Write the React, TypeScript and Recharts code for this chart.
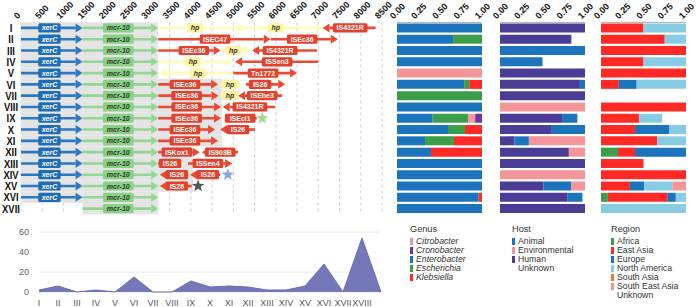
import React from "react";
import { BarChart, Bar, XAxis, YAxis, CartesianGrid, AreaChart, Area } from "recharts";

// row names of the gene map / proportion panels
const ROWS = ["I", "II", "III", "IV", "V", "VI", "VII", "VIII", "IX", "X", "XI", "XII", "XIII", "XIV", "XV", "XVI", "XVII"];
const BP_TICKS = [0, 500, 1000, 1500, 2000, 2500, 3000, 3500, 4000, 4500, 5000, 5500, 6000, 6500, 7000, 7500, 8000, 8500];
const FRAC_TICKS = [0, 0.25, 0.5, 0.75, 1];

// gene = [start, end, kind, label, direction, label centre]
type Gene = [number, number, string, string, number, number];
const XERC: Gene = [0, 1450, "xer", "xerC", 1, 670];
const MCR: Gene = [1450, 3230, "mcr", "mcr-10", 1, 2290];

const GENE_ROWS: Gene[][] = [
  [XERC, MCR, [3230, 5300, "hp", "hp", 1, 4100], [5300, 7100, "hp", "hp", 1, 6000], [7100, 8350, "is", "IS4321R", -1, 7750]],
  [XERC, MCR, [3230, 5880, "is", "ISEC47", 1, 4570], [5880, 7460, "is", "ISEc36", 1, 6620]],
  [XERC, MCR, [3230, 4700, "is", "ISEc36", 1, 4070], [4700, 5400, "hp", "hp", 1, 5000], [5440, 6970, "is", "IS4321R", -1, 6100]],
  [XERC, MCR, [3230, 5000, "hp", "hp", 1, 4050], [5040, 7000, "is", "ISSen3", -1, 6030]],
  [XERC, MCR, [3270, 5000, "hp", "hp", -1, 4170], [5000, 6500, "is", "Tn1772", 1, 5700]],
  [XERC, MCR, [3230, 4640, "is", "ISEc36", 1, 3860], [4700, 5200, "hp", "hp", 1, 4920], [5300, 6220, "is", "IS26", 1, 5630]],
  [XERC, MCR, [3230, 4650, "is", "ISEc36", 1, 3900], [4700, 5100, "hp", "hp", 1, 4920], [5110, 6150, "is", "ISEhe3", -1, 5680]],
  [XERC, MCR, [3230, 4710, "is", "ISEc36", 1, 3900], [4750, 5980, "is", "IS4321R", -1, 5390]],
  [XERC, MCR, [3230, 4710, "is", "ISEc36", 1, 3900], [4800, 5550, "is", "ISEcl1", -1, 5160]],
  [XERC, MCR, [3230, 4570, "is", "ISEc36", 1, 3860], [4690, 5510, "is", "IS26", -1, 5110]],
  [XERC, MCR, [3230, 4640, "is", "ISEc36", 1, 3860]],
  [XERC, MCR, [3230, 4210, "is", "ISKox1", 1, 3670], [4260, 5110, "is", "IS903B", -1, 4690]],
  [XERC, MCR, [3230, 3740, "is", "IS26", 1, 3510], [3930, 4970, "is", "ISSen4", 1, 4400]],
  [XERC, MCR, [3270, 3930, "is", "IS26", -1, 3670], [3980, 4690, "is", "IS26", -1, 4400]],
  [XERC, MCR, [3270, 4020, "is", "IS26", -1, 3670]],
  [XERC, MCR],
  [MCR],
];

// grey conserved-region shading per row
const SHADE: [number, number][] = [
  [0, 3230], [0, 3230], [0, 3230], [0, 3230], [0, 3230],
  [0, 4730], [0, 4730], [0, 4730], [0, 4730], [0, 4730], [0, 4730],
  [0, 4050], [0, 4050], [0, 4050], [0, 4050],
  [0, 3230], [1450, 3230],
];
// stars: [row index, position, colour]
const STARS: [number, number, string][] = [
  [8, 5680, "#a8d890"],
  [13, 4870, "#86a8e6"],
  [14, 4170, "#555555"],
];

// Genus proportions
const ENTEROBACTER = [1, 0.66, 1, 1, 0, 0.79, 0, 1, 0.42, 0.6, 0.33, 0.4, 1, 1, 1, 0.96, 1];
const ESCHERICHIA = [0, 0.34, 0, 0, 0, 0.06, 1, 0, 0.42, 0.2, 0.34, 0, 0, 0, 0, 0, 0];
const CITROBACTER = [0, 0, 0, 0, 1, 0, 0, 0, 0.08, 0, 0, 0, 0, 0, 0, 0, 0];
const CRONOBACTER = [0, 0, 0, 0, 0, 0, 0, 0, 0.08, 0, 0, 0, 0, 0, 0, 0, 0];
const KLEBSIELLA = [0, 0, 0, 0, 0, 0.15, 0, 0, 0, 0.2, 0.33, 0.6, 0, 0, 0, 0.04, 0];

// Host proportions (rest = unknown)
const HUMAN = [1, 0.84, 0, 0, 1, 0.94, 1, 0, 0.73, 0.61, 0.17, 0.81, 1, 0, 0.51, 0.79, 1];
const ANIMAL = [0, 0, 1, 0.5, 0, 0.06, 0, 0, 0.18, 0.39, 0.17, 0, 0, 0, 0.33, 0.18, 0];
const ENVIRONMENTAL = [0, 0, 0, 0, 0, 0, 0, 1, 0, 0, 0.66, 0.19, 0, 1, 0.16, 0, 0];

// Region proportions (rest = unknown)
const AFRICA = [0, 0, 0, 0, 0, 0, 0, 0, 0, 0, 0, 0.2, 0, 0, 0, 0.08, 0];
const EAST_ASIA = [0.5, 0.75, 1, 0.5, 1, 0.21, 0, 1, 0.45, 0.4, 0.66, 0.2, 0.5, 1, 0.34, 0.7, 0];
const EUROPE = [0, 0, 0, 0, 0, 0.21, 0, 0, 0, 0.4, 0, 0.6, 0, 0, 0.17, 0.1, 0];
const NORTH_AMERICA = [0.5, 0.25, 0, 0.5, 0, 0.58, 0, 0, 0.27, 0.2, 0.34, 0, 0, 0, 0.33, 0.12, 1];
const SOUTH_EAST_ASIA = [0, 0, 0, 0, 0, 0, 0, 0, 0, 0, 0, 0, 0, 0, 0.16, 0, 0];

// counts for bottom area chart
const AREA_LABELS = ["I", "II", "III", "IV", "V", "VI", "VII", "VIII", "IX", "X", "XI", "XII", "XIII", "XIV", "XV", "XVI", "XVII", "XVIII", ""];
const AREA_COUNTS = [2, 6, 0, 2, 0, 15, 0, 0, 11, 5, 6, 5, 2, 2, 6, 28, 0, 54, 0];

const C = {
  blue: "#1c75bc",
  green: "#3c9e4a",
  pink: "#f4959a",
  purple: "#7232a2",
  red: "#ff2a26",
  human: "#4b3d96",
  lightBlue: "#88cce4",
  orange: "#f47a2a",
};

const GENUS_LEGEND = [
  ["Citrobacter", C.pink],
  ["Cronobacter", C.purple],
  ["Enterobacter", C.blue],
  ["Escherichia", C.green],
  ["Klebsiella", C.red],
];
const HOST_LEGEND = [
  ["Animal", C.blue],
  ["Environmental", C.pink],
  ["Human", C.human],
  ["Unknown", ""],
];
const REGION_LEGEND = [
  ["Africa", C.green],
  ["East Asia", C.red],
  ["Europe", C.blue],
  ["North America", C.lightBlue],
  ["South Asia", C.orange],
  ["South East Asia", C.pink],
  ["Unknown", ""],
];

const GENE_STYLE: Record<string, { line: string; box: string; text: string }> = {
  xer: { line: "#2b79c2", box: "#1f6db4", text: "#ffffff" },
  mcr: { line: "#93d68f", box: "#8ccf88", text: "#1f3d1f" },
  hp: { line: "#fffbb8", box: "#fff5a0", text: "#333333" },
  is: { line: "#ea4a33", box: "#e3412c", text: "#ffffff" },
};

const mapData = ROWS.map((name, i) => {
  const row: any = { name, id: i, shade: SHADE[i] };
  for (let s = 0; s < 5; s++) {
    const g = GENE_ROWS[i][s];
    row["g" + s] = g ? [g[0], g[1]] : null;
  }
  const st = STARS.find((x) => x[0] === i);
  row.star = st ? [st[1] - 40, st[1] + 40] : null;
  return row;
});

const genusData = ROWS.map((name, i) => ({
  name,
  ent: ENTEROBACTER[i],
  esc: ESCHERICHIA[i],
  cit: CITROBACTER[i],
  cro: CRONOBACTER[i],
  kle: KLEBSIELLA[i],
}));
const hostData = ROWS.map((name, i) => ({ name, hum: HUMAN[i], ani: ANIMAL[i], env: ENVIRONMENTAL[i] }));
const regionData = ROWS.map((name, i) => ({
  name,
  afr: AFRICA[i],
  eas: EAST_ASIA[i],
  eur: EUROPE[i],
  nam: NORTH_AMERICA[i],
  sea: SOUTH_EAST_ASIA[i],
}));
const areaData = AREA_LABELS.map((label, i) => ({ label, count: AREA_COUNTS[i] }));

const ok = (p: any) => Number.isFinite(p.x) && Number.isFinite(p.width) && Number.isFinite(p.y);

const shadeShape = (p: any) => {
  if (!ok(p)) return <g />;
  const cy = p.y + p.height / 2;
  return <rect x={p.x} y={cy - 5.7} width={p.width} height={11.4} fill="#e4e4e4" />;
};

const geneShape = (slot: number) => (p: any) => {
  const g = GENE_ROWS[p.payload?.id ?? p.index]?.[slot];
  if (!g || !ok(p)) return <g />;
  const [s, e, kind, label, dir, at] = g;
  const st = GENE_STYLE[kind];
  const cy = p.y + p.height / 2;
  const x0 = p.x;
  const x1 = p.x + p.width;
  const head = 7;
  const lx = x0 + ((at - s) / (e - s)) * p.width;
  const bw = Math.max(16, label.length * 4.1 + 6);
  const line =
    dir > 0 ? (
      <>
        <line x1={x0} x2={x1 - head} y1={cy} y2={cy} stroke={st.line} strokeWidth={2.6} />
        <polygon points={`${x1 - head},${cy - 4.5} ${x1},${cy} ${x1 - head},${cy + 4.5}`} fill={st.line} />
      </>
    ) : (
      <>
        <line x1={x0 + head} x2={x1} y1={cy} y2={cy} stroke={st.line} strokeWidth={2.6} />
        <polygon points={`${x0 + head},${cy - 4.5} ${x0},${cy} ${x0 + head},${cy + 4.5}`} fill={st.line} />
      </>
    );
  return (
    <g>
      {line}
      <rect x={lx - bw / 2} y={cy - 4.6} width={bw} height={9.2} rx={1.5} fill={st.box} />
      <text
        x={lx}
        y={cy + 2.5}
        textAnchor="middle"
        fontSize={7}
        fontWeight="bold"
        fontStyle={kind === "is" ? "normal" : "italic"}
        fill={st.text}
      >
        {label}
      </text>
    </g>
  );
};

const starShape = (p: any) => {
  const st = STARS.find((x) => x[0] === (p.payload?.id ?? p.index));
  if (!st || !ok(p)) return <g />;
  const cx = p.x + p.width / 2;
  const cy = p.y + p.height / 2;
  const pts: string[] = [];
  for (let k = 0; k < 10; k++) {
    const r = k % 2 === 0 ? 6.5 : 2.7;
    const a = -Math.PI / 2 + (k * Math.PI) / 5;
    pts.push(`${cx + r * Math.cos(a)},${cy + r * Math.sin(a)}`);
  }
  return <polygon points={pts.join(" ")} fill={st[2]} />;
};

// condensed bold roman numerals on the left
const RowTick = ({ y, payload }: any) => (
  <text
    x={11}
    y={y + 4}
    textAnchor="middle"
    fontSize={11.5}
    fontWeight="bold"
    fill="#111"
    transform={`translate(11 0) scale(0.82 1) translate(-11 0)`}
  >
    {payload.value}
  </text>
);

const makeTopTick = (fmt: (v: number) => string, fs: number) => ({ x, y, payload }: any) => {
  const ax = x - 3.5;
  const ay = y;
  return (
    <text x={ax} y={ay} transform={`rotate(-45 ${ax} ${ay})`} fontSize={fs} fontWeight="bold" fill="#111">
      {fmt(payload.value)}
    </text>
  );
};
const BpTick = makeTopTick((v) => String(v), 9);
const FracTick = makeTopTick((v) => v.toFixed(2), 9);

const PANEL_H = 220;
const PAD = 12;
const PANEL_MARGIN = { top: 0, right: 20, left: PAD, bottom: 5.6 };

function PropPanel({ left, data, series }: { left: number; data: any[]; series: [string, string][] }) {
  return (
    <div style={{ position: "absolute", left: left - PAD, top: 0 }}>
      <BarChart width={85 + PAD + 20} height={PANEL_H} data={data} layout="vertical" margin={PANEL_MARGIN} barSize={9}>
        <XAxis
          type="number"
          domain={[0, 1]}
          ticks={FRAC_TICKS}
          orientation="top"
          height={22.4}
          tickLine={false}
          tickSize={0}
          tickMargin={3}
          axisLine={{ stroke: "#b0b0b0" }}
          tick={<FracTick />}
          interval={0}
        />
        <YAxis type="category" dataKey="name" hide />
        {series.map(([key, color]) => (
          <Bar key={key} dataKey={key} stackId="a" fill={color} isAnimationActive={false} />
        ))}
      </BarChart>
    </div>
  );
}

function LegendBlock({ left, title, items, italic }: { left: number; title: string; items: string[][]; italic?: boolean }) {
  return (
    <div style={{ position: "absolute", left, top: 225, fontSize: 8.7, color: "#333", lineHeight: "9px" }}>
      <div style={{ fontSize: 9.2, marginBottom: 2.5 }}>{title}</div>
      {items.map(([name, color]) => (
        <div key={name} style={{ display: "flex", alignItems: "center", height: 9 }}>
          <span style={{ width: 3, height: 7, background: color || "transparent", marginRight: 3 }} />
          <span style={{ fontStyle: italic ? "italic" : "normal" }}>{name}</span>
        </div>
      ))}
    </div>
  );
}

export default function App() {
  return (
    <div
      style={{
        position: "absolute",
        left: 0,
        top: 0,
        width: 696,
        height: 307,
        background: "#fff",
        fontFamily: "'Liberation Sans', Arial, sans-serif",
        overflow: "hidden",
      }}
    >
      {/* gene map */}
      <div style={{ position: "absolute", left: 0, top: 0 }}>
        <BarChart width={400} height={PANEL_H} data={mapData} layout="vertical" margin={{ top: 0, right: 18, left: 0, bottom: 5.6 }} barSize={9} barGap={-9}>
          <CartesianGrid horizontal={false} strokeDasharray="3 3" stroke="#cfcfcf" />
          <XAxis
            type="number"
            domain={[0, 8500]}
            ticks={BP_TICKS}
            orientation="top"
            height={22.4}
            tickLine={false}
            tickSize={0}
            tickMargin={3}
            axisLine={false}
            tick={<BpTick />}
            interval={0}
            allowDataOverflow
          />
          <YAxis type="category" dataKey="name" width={21} tickLine={false} axisLine={false} tick={<RowTick />} interval={0} />
          <Bar dataKey="shade" shape={shadeShape} isAnimationActive={false} />
          {[0, 1, 2, 3, 4].map((s) => (
            <Bar key={s} dataKey={"g" + s} shape={geneShape(s)} isAnimationActive={false} />
          ))}
          <Bar dataKey="star" shape={starShape} isAnimationActive={false} />
        </BarChart>
      </div>

      <PropPanel
        left={397}
        data={genusData}
        series={[["ent", C.blue], ["esc", C.green], ["cit", C.pink], ["cro", C.purple], ["kle", C.red]]}
      />
      <PropPanel left={500} data={hostData} series={[["hum", C.human], ["ani", C.blue], ["env", C.pink]]} />
      <PropPanel
        left={601}
        data={regionData}
        series={[["afr", C.green], ["eas", C.red], ["eur", C.blue], ["nam", C.lightBlue], ["sea", C.pink]]}
      />

      {/* count area */}
      <div style={{ position: "absolute", left: 0, top: 225 }}>
        <AreaChart width={395} height={82} data={areaData} margin={{ top: 7, right: 14, left: 0, bottom: 0 }}>
          <CartesianGrid vertical={false} stroke="#e8e8e8" />
          <XAxis
            dataKey="label"
            scale="point"
            height={15}
            tickLine={false}
            axisLine={false}
            interval={0}
            tick={{ fontSize: 9, fill: "#555" }}
          />
          <YAxis
            width={39}
            domain={[0, 60]}
            ticks={[0, 20, 40, 60]}
            tickLine={false}
            axisLine={false}
            tickMargin={4}
            tick={{ fontSize: 9, fill: "#666" }}
          />
          <Area type="linear" dataKey="count" fill="#7478b8" stroke="#6a6eb2" fillOpacity={1} isAnimationActive={false} />
        </AreaChart>
      </div>

      <LegendBlock left={410} title="Genus" items={GENUS_LEGEND} italic />
      <LegendBlock left={512} title="Host" items={HOST_LEGEND} />
      <LegendBlock left={611} title="Region" items={REGION_LEGEND} />
    </div>
  );
}
